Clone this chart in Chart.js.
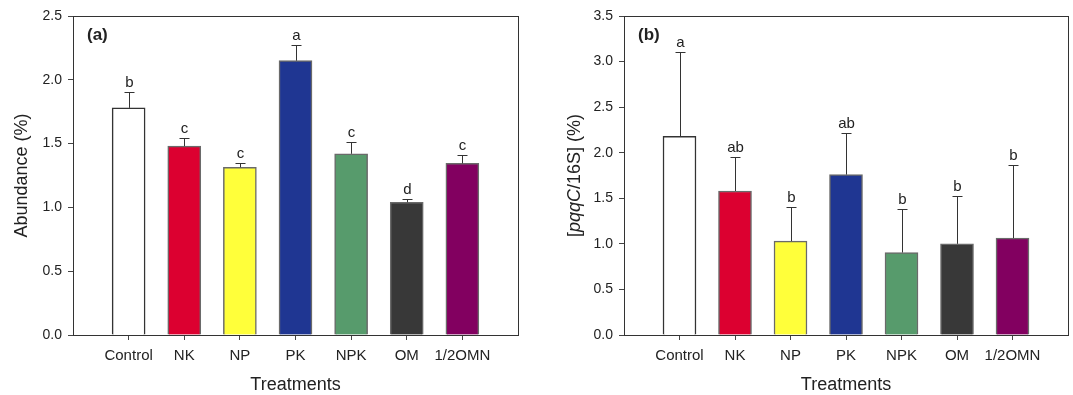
<!DOCTYPE html>
<html>
<head>
<meta charset="utf-8">
<script src="https://cdn.jsdelivr.net/npm/chart.js@4"></script>
<style>
  html, body { margin: 0; padding: 0; background: #fff; }
  .wrap { position: absolute; top: 0; height: 395px; }
</style>
</head>
<body>
<div class="wrap" style="left:0;width:540px"><canvas id="chartA"></canvas></div>
<div class="wrap" style="left:540px;width:533px"><canvas id="chartB"></canvas></div>
<script>
const treatments = ['Control', 'NK', 'NP', 'PK', 'NPK', 'OM', '1/2OMN'];
const barColors = ['#ffffff', '#dc0030', '#ffff3a', '#1f3692', '#579b6c', '#383838', '#820060'];

// panel (a)
const abundance = [1.78, 1.48, 1.315, 2.15, 1.42, 1.04, 1.345];
const abundanceErr = [0.125, 0.06, 0.03, 0.12, 0.095, 0.022, 0.062];
const abundanceLetters = ['b', 'c', 'c', 'a', 'c', 'd', 'c'];
const abundanceTicks = [0, 0.5, 1.0, 1.5, 2.0, 2.5];

// panel (b)
const pqqC = [2.18, 1.58, 1.03, 1.76, 0.905, 1.0, 1.063];
const pqqCErr = [0.92, 0.37, 0.37, 0.455, 0.475, 0.53, 0.80];
const pqqCLetters = ['a', 'ab', 'b', 'ab', 'b', 'b', 'b'];
const pqqCTicks = [0, 0.5, 1.0, 1.5, 2.0, 2.5, 3.0, 3.5];

const FONT = '"Liberation Sans", Arial, sans-serif';
const INK = '#222';

// draws frame, error bars, letters, panel label and axis titles
const extras = {
  id: 'extras',
  afterDatasetsDraw(chart, args, opts) {
    const ctx = chart.ctx;
    const area = chart.chartArea;
    const x = chart.scales.x, y = chart.scales.y;
    ctx.save();
    // frame on top and right
    ctx.strokeStyle = '#333';
    ctx.lineWidth = 1;
    ctx.strokeRect(area.left + 0.5, area.top + 0.5, area.right - area.left, area.bottom - area.top);

    // error bars + letters
    ctx.strokeStyle = '#333';
    ctx.fillStyle = INK;
    ctx.font = '15px ' + FONT;
    ctx.textAlign = 'center';
    ctx.textBaseline = 'alphabetic';
    opts.values.forEach((v, i) => {
      const px = Math.round(x.getPixelForValue(i + 1)) + 0.5;
      const y0 = y.getPixelForValue(v);
      const y1 = Math.round(y.getPixelForValue(v + opts.errors[i])) + 0.5;
      ctx.beginPath();
      ctx.moveTo(px, y0);
      ctx.lineTo(px, y1);
      ctx.moveTo(px - 5, y1);
      ctx.lineTo(px + 5, y1);
      ctx.stroke();
      ctx.fillText(opts.letters[i], px, y1 - 6);
    });

    // panel label
    ctx.font = 'bold 17px ' + FONT;
    ctx.textAlign = 'left';
    ctx.textBaseline = 'middle';
    ctx.fillText(opts.panel, area.left + 14, 35);

    // x title
    ctx.font = '18px ' + FONT;
    ctx.textAlign = 'center';
    ctx.fillText('Treatments', (area.left + area.right) / 2, 385);

    // y title, rotated, pieces can be italic
    ctx.translate(opts.yTitleX, (area.top + area.bottom) / 2);
    ctx.rotate(-Math.PI / 2);
    let total = 0;
    opts.yTitle.forEach(p => {
      ctx.font = (p.italic ? 'italic ' : '') + '18px ' + FONT;
      total += ctx.measureText(p.text).width;
    });
    let cx = -total / 2;
    ctx.textAlign = 'left';
    opts.yTitle.forEach(p => {
      ctx.font = (p.italic ? 'italic ' : '') + '18px ' + FONT;
      ctx.fillText(p.text, cx, 0);
      cx += ctx.measureText(p.text).width;
    });
    ctx.restore();
  }
};

function makeChart(id, values, errors, letters, ticks, yMax, opts) {
  return new Chart(document.getElementById(id), {
    type: 'bar',
    data: {
      datasets: [{
        data: values.map((v, i) => ({ x: i + 1, y: v })),
        backgroundColor: barColors,
        borderColor: barColors.map((c, i) => i === 0 ? '#333' : '#6a6a6a'),
        borderWidth: 1.5,
        barThickness: 33
      }]
    },
    options: {
      responsive: true,
      maintainAspectRatio: false,
      animation: false,
      layout: { padding: { top: 16, right: opts.padRight, left: 0, bottom: 0 } },
      plugins: {
        legend: { display: false },
        tooltip: { enabled: false },
        extras: { values: values, errors: errors, letters: letters, panel: opts.panel, yTitle: opts.yTitle, yTitleX: opts.yTitleX }
      },
      scales: {
        x: {
          type: 'linear',
          min: 0,
          max: 8,
          offset: false,
          afterBuildTicks: (s) => { s.ticks = treatments.map((t, i) => ({ value: i + 1 })); },
          afterFit: (s) => { s.height = 60; },
          ticks: {
            callback: (v) => treatments[v - 1],
            font: { family: FONT, size: 15 },
            color: INK,
            padding: 7,
            maxRotation: 0,
            autoSkip: false
          },
          grid: { offset: false, drawOnChartArea: false, drawTicks: true, tickLength: 5, color: '#444' },
          border: { display: true, color: '#333' }
        },
        y: {
          min: 0,
          max: yMax,
          afterBuildTicks: (s) => { s.ticks = ticks.map(v => ({ value: v })); },
          afterFit: (s) => { s.width = opts.yWidth; },
          ticks: {
            callback: (v) => v.toFixed(1),
            font: { family: FONT, size: 14 },
            color: INK,
            padding: 6
          },
          grid: { drawOnChartArea: false, drawTicks: true, tickLength: 5, color: '#444' },
          border: { display: true, color: '#333' }
        }
      }
    },
    plugins: [extras]
  });
}

makeChart('chartA', abundance, abundanceErr, abundanceLetters, abundanceTicks, 2.5, {
  panel: '(a)', padRight: 22, yWidth: 73, yTitleX: 22,
  yTitle: [{ text: 'Abundance (%)' }]
});

makeChart('chartB', pqqC, pqqCErr, pqqCLetters, pqqCTicks, 3.5, {
  panel: '(b)', padRight: 5, yWidth: 84, yTitleX: 35,
  yTitle: [{ text: '[' }, { text: 'pqqC', italic: true }, { text: '/16S] (%)' }]
});
</script>
</body>
</html>
